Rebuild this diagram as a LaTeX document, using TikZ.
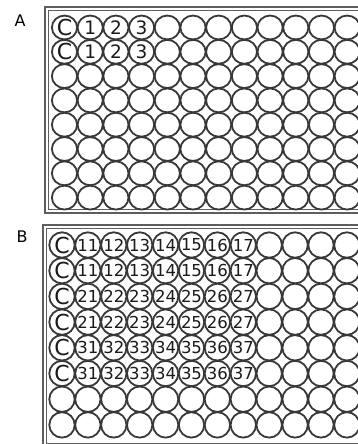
\documentclass[tikz,border=0pt]{standalone}
\usepackage{fontspec}
\setmainfont{DejaVu Sans}
\usepackage{xcolor}
\definecolor{wellgray}{HTML}{383838}
\definecolor{framegray}{HTML}{5E5E5E}
\definecolor{inkgray}{HTML}{1A1A1A}
\usepackage{tikz}
\usetikzlibrary{shapes.geometric}

\begin{document}
\begin{tikzpicture}[x=1pt, y=-1pt]
    \tikzstyle{wellA} = [ellipse, minimum width=25.2pt, minimum height=23.9pt, inner sep=0pt, draw=wellgray, line width=1.8pt, fill=white]
    \tikzstyle{wellB} = [circle, minimum size=25.4pt, inner sep=0pt, draw=wellgray, line width=1.8pt, fill=white]
    \tikzstyle{ctrl} = [inner sep=0pt, text=inkgray, font=\fontsize{22}{22}\selectfont]
    \tikzstyle{numA} = [inner sep=0pt, text=inkgray, font=\fontsize{18.5}{18.5}\selectfont]
    \tikzstyle{numB} = [inner sep=0pt, text=inkgray, font=\fontsize{16.5}{16.5}\selectfont]
    \tikzstyle{plate} = [draw=framegray, line width=1.8pt]
    \tikzstyle{plateinner} = [draw=framegray, line width=1pt]
    \tikzstyle{panel} = [inner sep=0pt, font=\fontsize{16}{16}\selectfont]

    \clip (0,0) rectangle (358,444);

    % plate A
    \node[panel] (labA) at (20,21) {A};
    \draw[plate] (45,7) rectangle (376,213);
    \draw[plateinner] (48.5,10.5) rectangle (372.5,209.5);
    \foreach \r in {1,...,8}
      \foreach \c in {1,...,12}
        \node[wellA] (wA-\r-\c) at ({64.5+25.7*(\c-1)},{27.5+24.3*(\r-1)}) {};
    \foreach \r in {1,2} {
      \node[ctrl] (tA-\r-1) at (wA-\r-1) {C};
      \foreach \n in {1,2,3} {
        \pgfmathtruncatemacro{\c}{\n+1}
        \node[numA] (tA-\r-\c) at (wA-\r-\c) {\n};
      }
    }

    % plate B
    \node[panel] (labB) at (22,237) {B};
    \draw[plate] (43,225) rectangle (376,447);
    \draw[plateinner] (46.5,228.5) rectangle (372.5,443);
    \foreach \r in {1,...,8}
      \foreach \c in {1,...,12}
        \node[wellB] (wB-\r-\c) at ({62+25.9*(\c-1)},{245+25.7*(\r-1)}) {};
    \foreach \r in {1,...,6} {
      \pgfmathtruncatemacro{\tens}{int((\r+1)/2)}
      \node[ctrl] (tB-\r-1) at (wB-\r-1) {C};
      \foreach \u in {1,...,7} {
        \pgfmathtruncatemacro{\c}{\u+1}
        \node[numB] (tB-\r-\c) at (wB-\r-\c) {\tens\u};
      }
    }
\end{tikzpicture}
\end{document}
